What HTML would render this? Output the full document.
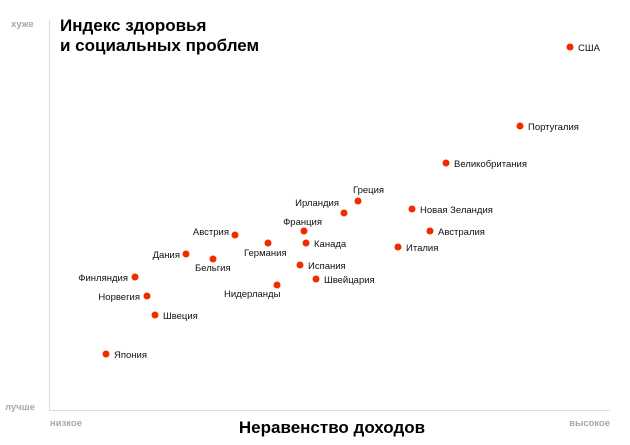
<!DOCTYPE html><html><head><meta charset="utf-8"><style>
body{margin:0;background:#fff;width:630px;height:440px;overflow:hidden}
svg text{font-family:"Liberation Sans",Arial,sans-serif}
.l{font-size:9.5px;fill:#111}
.g{font-size:9.5px;fill:#a8a8a8;font-weight:bold}
</style></head><body>
<svg width="630" height="440" xmlns="http://www.w3.org/2000/svg">
<line x1="49.5" y1="20" x2="49.5" y2="411" stroke="#ddd"/>
<line x1="49" y1="410.5" x2="610" y2="410.5" stroke="#ddd"/>
<text class="g" x="11" y="27">хуже</text>
<text class="g" x="5" y="410">лучше</text>
<text class="g" x="50" y="426">низкое</text>
<text class="g" x="610" y="426" text-anchor="end">высокое</text>
<text x="60" y="31" font-size="17" font-weight="bold" fill="#000">Индекс здоровья</text>
<text x="60" y="51" font-size="17" font-weight="bold" fill="#000">и социальных проблем</text>
<text x="332" y="433" font-size="17" font-weight="bold" fill="#000" text-anchor="middle">Неравенство доходов</text>
<g fill="#f22a00">
<circle cx="570" cy="47" r="3.5"/><circle cx="520" cy="126" r="3.5"/><circle cx="446" cy="163" r="3.5"/>
<circle cx="358" cy="201" r="3.5"/><circle cx="344" cy="213" r="3.5"/><circle cx="412" cy="209" r="3.5"/>
<circle cx="304" cy="231" r="3.5"/><circle cx="430" cy="231" r="3.5"/><circle cx="306" cy="243" r="3.5"/>
<circle cx="398" cy="247" r="3.5"/><circle cx="268" cy="243" r="3.5"/><circle cx="235" cy="235" r="3.5"/>
<circle cx="186" cy="254" r="3.5"/><circle cx="213" cy="259" r="3.5"/><circle cx="300" cy="265" r="3.5"/>
<circle cx="316" cy="279" r="3.5"/><circle cx="277" cy="285" r="3.5"/><circle cx="135" cy="277" r="3.5"/>
<circle cx="147" cy="296" r="3.5"/><circle cx="155" cy="315" r="3.5"/><circle cx="106" cy="354" r="3.5"/>
</g>
<g class="l">
<text class="l" x="578" y="51">США</text>
<text class="l" x="528" y="130">Португалия</text>
<text class="l" x="454" y="167">Великобритания</text>
<text class="l" x="353" y="193">Греция</text>
<text class="l" x="339" y="206" text-anchor="end">Ирландия</text>
<text class="l" x="420" y="213">Новая Зеландия</text>
<text class="l" x="322" y="225" text-anchor="end">Франция</text>
<text class="l" x="438" y="235">Австралия</text>
<text class="l" x="314" y="247">Канада</text>
<text class="l" x="406" y="251">Италия</text>
<text class="l" x="244" y="256">Германия</text>
<text class="l" x="229" y="235" text-anchor="end">Австрия</text>
<text class="l" x="180" y="258" text-anchor="end">Дания</text>
<text class="l" x="195" y="271">Бельгия</text>
<text class="l" x="308" y="269">Испания</text>
<text class="l" x="324" y="283">Швейцария</text>
<text class="l" x="224" y="297">Нидерланды</text>
<text class="l" x="128" y="281" text-anchor="end">Финляндия</text>
<text class="l" x="140" y="300" text-anchor="end">Норвегия</text>
<text class="l" x="163" y="319">Швеция</text>
<text class="l" x="114" y="358">Япония</text>
</g>
</svg></body></html>
